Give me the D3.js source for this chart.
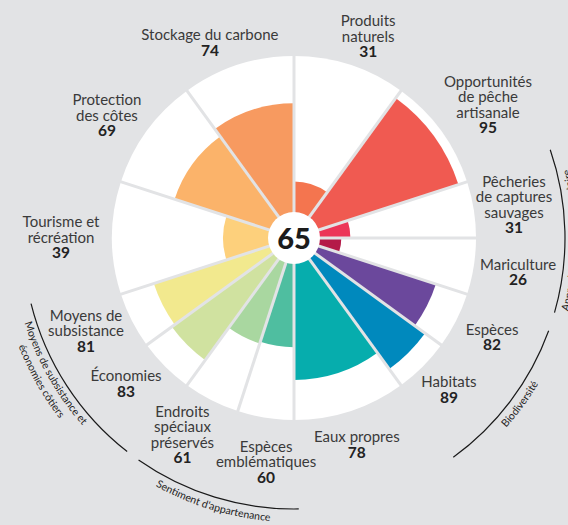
<!DOCTYPE html>
<html><head><meta charset="utf-8">
<script src="https://cdn.jsdelivr.net/npm/d3@7"></script>
<style>html,body{margin:0;padding:0;background:#e2e3e5;} svg{display:block;}</style>
</head><body><svg id="chart" width="568" height="525"></svg>
<script>
// ---- data ----
const goals = ["Produits naturels", "Opportunités de pêche artisanale", "Pêcheries de captures sauvages", "Mariculture", "Espèces", "Habitats", "Eaux propres", "Espèces emblématiques", "Endroits spéciaux préservés", "Économies", "Moyens de subsistance", "Tourisme et récréation", "Protection des côtes", "Stockage du carbone"];
const labelLines = [["Produits","naturels"], ["Opportunités","de pêche","artisanale"], ["Pêcheries","de captures","sauvages"], ["Mariculture"], ["Espèces"], ["Habitats"], ["Eaux propres"], ["Espèces","emblématiques"], ["Endroits","spéciaux","préservés"], ["Économies"], ["Moyens de","subsistance"], ["Tourisme et","récréation"], ["Protection","des côtes"], ["Stockage du carbone"]];
const scores = [31, 95, 31, 26, 82, 89, 78, 60, 61, 83, 81, 39, 69, 74];
const weights = [1, 1, 0.5, 0.5, 0.5, 0.5, 1, 0.5, 0.5, 0.5, 0.5, 1, 1, 1];
const colors = ["#f4754f", "#f05a51", "#ec3558", "#b41a48", "#6b489c", "#0089bd", "#06adad", "#4fbea0", "#a9d7a0", "#d0e2a0", "#f2e98e", "#fdd07c", "#fbb36a", "#f79a60"];
const overallScore = 65;
const groupNames = [["Approvisionnement alimentaire"], ["Biodiversité"], ["Sentiment d'appartenance"], ["Moyens de subsistance et", "économies côtiers"]];
const groupMembers = [[2, 3], [4, 5], [7, 8], [9, 10]];

// ---- layout (not data) ----
const W = 568, H = 525, cx = 294, cy = 238, R = 182, bg = "#e2e3e5";
const labelPlace = [[20.2,214.7],[55.6,235.1],[81.5,222.4],[98.8,226.7],[116.7,221.7],[134.4,216.9],[163.1,216.1],[187.1,226.2],[209.5,226.6],[229.05,222.4],[245.8,228],[270.1,233],[303.2,223.6],[336.7,212.6]];
const groupArcPad = [[-1,-2],[2,0],[-1,-1],[2,4]];
const groupTextCenter = [90.5, 126.3, 197, 240.5];
const groupTextR = [[284],[284.5],[284],[282.5,296]];
const arcR = 271;

const svg = d3.select("#chart");
svg.append("rect").attr("width", W).attr("height", H).attr("fill", bg);
const g = svg.append("g").attr("transform", `translate(${cx},${cy})`);

const r = d3.scaleLinear().domain([0, 100]).range([0, R]);
const totalW = d3.sum(weights);
const ang = d3.scaleLinear().domain([0, totalW]).range([0, 360]);
const cum = [0]; weights.forEach((w, i) => cum.push(cum[i] + w));
const starts = cum.slice(0, -1).map(ang), ends = cum.slice(1).map(ang);
const rad = d => d * Math.PI / 180;
const pol = (a, rr) => [rr * Math.sin(rad(a)), -rr * Math.cos(rad(a))];

const arc = d3.arc().innerRadius(0);
// white background petals
g.selectAll("path.bgp").data(goals).join("path").attr("class", "bgp")
  .attr("d", (d, i) => arc({outerRadius: R, startAngle: rad(starts[i]), endAngle: rad(ends[i])}))
  .attr("fill", "#fff");
// score petals
g.selectAll("path.sp").data(scores).join("path").attr("class", "sp")
  .attr("d", (d, i) => arc({outerRadius: r(d), startAngle: rad(starts[i]), endAngle: rad(ends[i])}))
  .attr("fill", (d, i) => colors[i]);
// gaps
g.selectAll("line.gap").data(starts).join("line").attr("class", "gap")
  .attr("x1", 0).attr("y1", 0)
  .attr("x2", d => pol(d, R + 3)[0]).attr("y2", d => pol(d, R + 3)[1])
  .attr("stroke", bg).attr("stroke-width", 3);
// center
g.append("circle").attr("r", 26).attr("fill", "#fff");
g.append("text").attr("text-anchor", "middle").attr("y", 10.5)
  .attr("font-family", "Lato, 'Open Sans', sans-serif").attr("font-weight", 900).attr("font-size", 29)
  .attr("fill", "#1c1c1c").text(overallScore);

// labels
const lh = 15.5;
goals.forEach((name, i) => {
  const lines = labelLines[i];
  const n = lines.length + 1;
  const [x, yc] = pol(labelPlace[i][0], labelPlace[i][1]);
  const b0 = yc - ((n - 1) * lh - 10) / 2;
  const t = g.append("text").attr("text-anchor", "middle")
    .attr("font-family", "Lato, 'Open Sans', sans-serif").attr("font-size", 15).attr("fill", "#3a3a3a");
  lines.forEach((ln, k) => t.append("tspan").attr("x", x).attr("y", b0 + k * lh).text(ln));
  t.append("tspan").attr("x", x).attr("y", b0 + (n - 1) * lh)
    .attr("font-weight", 700).attr("font-size", 15.5).attr("fill", "#222").text(scores[i]);
});

// group arcs
groupMembers.forEach((m, gi) => {
  const a0 = starts[m[0]] + groupArcPad[gi][0];
  const a1 = ends[m[m.length - 1]] + groupArcPad[gi][1];
  const p0 = pol(a0, arcR), p1 = pol(a1, arcR);
  g.append("path").attr("d", `M${p0[0]},${p0[1]}A${arcR},${arcR} 0 0 1 ${p1[0]},${p1[1]}`)
    .attr("fill", "none").attr("stroke", "#1a1a1a").attr("stroke-width", 1.2);
  groupNames[gi].forEach((txt, li) => {
    const rb = groupTextR[gi][li];
    const c = groupTextCenter[gi];
    const q0 = pol(c + 60, rb), q1 = pol(c - 60, rb);
    const id = `gp${gi}_${li}`;
    g.append("path").attr("id", id).attr("fill", "none")
      .attr("d", `M${q0[0]},${q0[1]}A${rb},${rb} 0 0 0 ${q1[0]},${q1[1]}`);
    g.append("text").attr("font-family", "Lato, 'Open Sans', sans-serif").attr("font-size", 10.5)
      .attr("fill", "#222").attr("text-anchor", "middle")
      .append("textPath").attr("href", "#" + id).attr("startOffset", "50%").text(txt);
  });
});
</script></body></html>
